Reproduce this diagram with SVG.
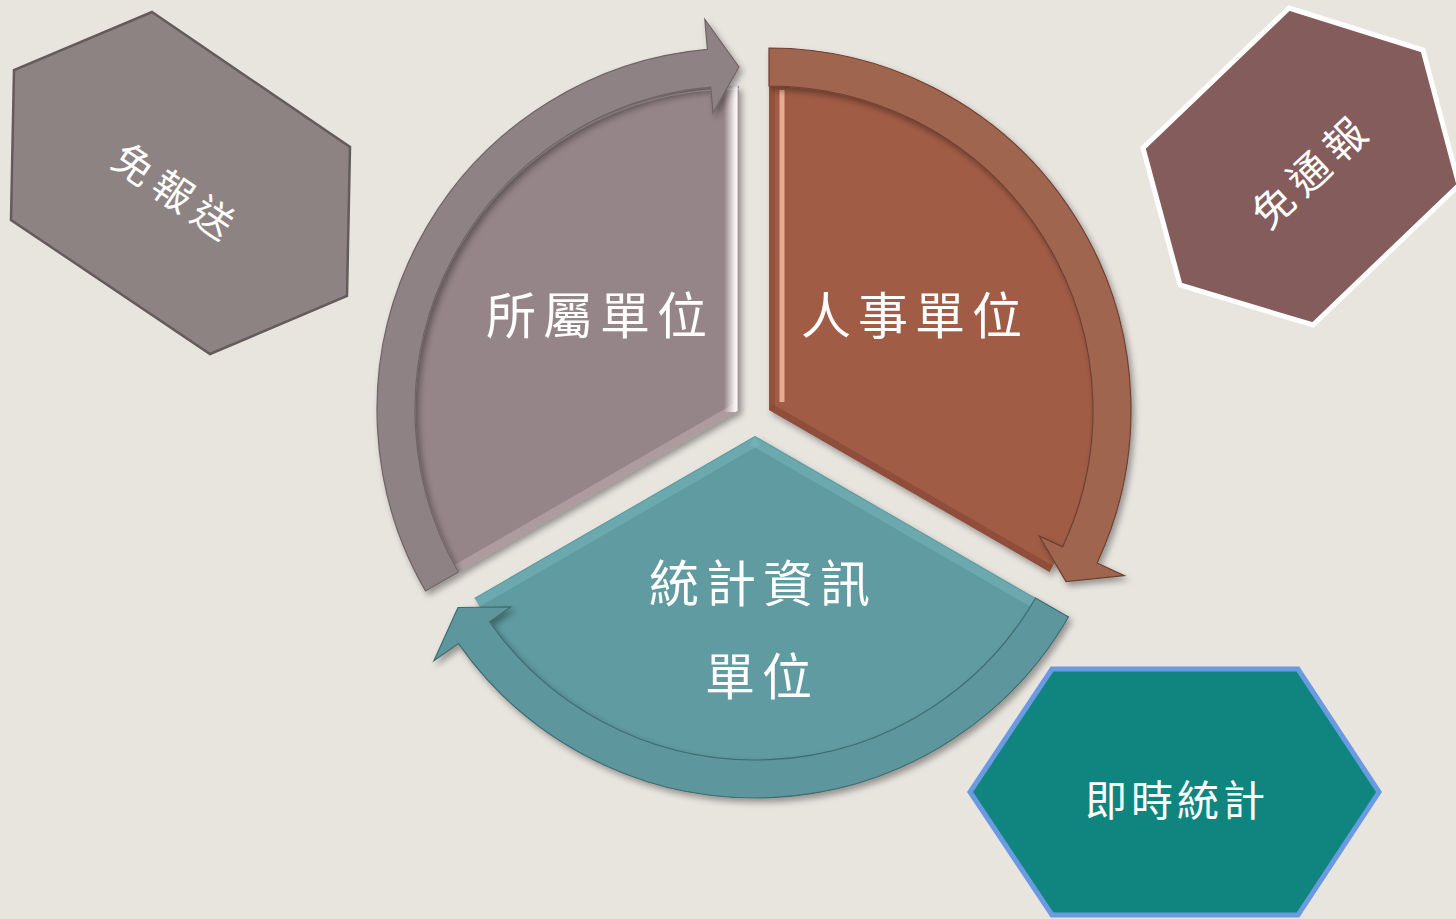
<svg xmlns="http://www.w3.org/2000/svg" width="1456" height="919" viewBox="0 0 1456 919">
  <style>
    .lbl { font-family: "Noto Sans CJK TC", "Noto Sans CJK SC", sans-serif; fill: #ffffff; text-anchor: middle; dominant-baseline: central; }
    .big { font-size: 50px; letter-spacing: 7px; }
    .band { stroke-width: 1.2; stroke-linejoin: miter; }
  </style>
  <defs>
    <filter id="shadow" x="-10%" y="-10%" width="125%" height="125%">
      <feDropShadow dx="3" dy="4" stdDeviation="3" flood-color="#000" flood-opacity="0.35"/>
    </filter>
    <linearGradient id="hlL" gradientUnits="userSpaceOnUse" x1="724" y1="0" x2="739" y2="0">
      <stop offset="0" stop-color="#ffffff" stop-opacity="0"/>
      <stop offset="0.7" stop-color="#fdf6f7" stop-opacity="0.9"/>
      <stop offset="0.85" stop-color="#ffffff" stop-opacity="0.95"/>
      <stop offset="1" stop-color="#8a7b7e" stop-opacity="0.9"/>
    </linearGradient>
    <clipPath id="clipL"><path d="M739,410 L458.4,572 A324,324 0 0 1 739,86 Z"/></clipPath>
    <clipPath id="clipR"><path d="M769,410 L769,86 A324,324 0 0 1 1049.6,572 Z"/></clipPath>
    <clipPath id="clipB"><path d="M755,436 L1035.6,598 A324,324 0 0 1 474.4,598 Z"/></clipPath>
  </defs>

  <rect x="0" y="0" width="1456" height="919" fill="#e8e4de"/>

  <!-- Hexagon nodes -->
  <g id="node-mianbaosong">
    <polygon points="152,12 350,147 347,296 210,354 11,220 14,70" fill="#8e8383" stroke="#655a5c" stroke-width="2.5"/>
    <text class="lbl" x="178" y="189" font-size="40" letter-spacing="8" transform="rotate(34 174 190)">免報送</text>
  </g>
  <g id="node-mintongbao">
    <polygon points="1289,8 1423,50 1459,185 1313,325 1180,285 1143,148" fill="#835c5b" stroke="#ffffff" stroke-width="5" stroke-linejoin="miter"/>
    <text class="lbl" x="1311" y="171" font-size="41" letter-spacing="8" transform="rotate(-43 1307 171)">免通報</text>
  </g>
  <g id="node-jishi">
    <polygon points="1052,669 1298,669 1379,792 1298,915 1052,915 970,792" fill="#10857f" stroke="#6a9be2" stroke-width="5"/>
    <text class="lbl" x="1177" y="797" font-size="42" letter-spacing="4">即時統計</text>
  </g>

  <!-- Cycle segment nodes -->
  <g id="node-suoshu">
    <path d="M739,410 L458.4,572 A324,324 0 0 1 739,86 Z" fill="#958488" filter="url(#shadow)"/>
    <g clip-path="url(#clipL)">
      <line x1="739" y1="410" x2="458.4" y2="572" stroke="#c2b0b3" stroke-width="16" opacity="0.55"/>
      <rect x="724" y="86" width="15" height="326" fill="url(#hlL)"/>
      <path d="M458.4,572 A321,321 0 0 1 739,89" fill="none" stroke="#ffffff" stroke-width="1.5" opacity="0.35"/>
    </g>
    <text class="lbl big" x="600" y="312">所屬單位</text>
  </g>
  <g id="node-renshi">
    <path d="M769,410 L769,86 A324,324 0 0 1 1049.6,572 Z" fill="#a15b44" filter="url(#shadow)"/>
    <g clip-path="url(#clipR)">
      <line x1="769" y1="410" x2="1049.6" y2="572" stroke="#7a3e2f" stroke-width="14" opacity="0.45"/>
      <line x1="771" y1="86" x2="771" y2="410" stroke="#8a4a38" stroke-width="8" opacity="0.6"/>
      <line x1="782" y1="90" x2="782" y2="402" stroke="#f2b9a2" stroke-width="5" opacity="0.85"/>
    </g>
    <text class="lbl big" x="915" y="312">人事單位</text>
  </g>
  <g id="node-tongji">
    <path d="M755,436 L1035.6,598 A324,324 0 0 1 474.4,598 Z" fill="#5e9ba1" filter="url(#shadow)"/>
    <g clip-path="url(#clipB)">
      <line x1="755" y1="436" x2="1035.6" y2="598" stroke="#86c4c9" stroke-width="20" opacity="0.35"/>
      <line x1="755" y1="436" x2="474.4" y2="598" stroke="#86c4c9" stroke-width="20" opacity="0.35"/>
      <line x1="755" y1="436" x2="1035.6" y2="598" stroke="#4f8c92" stroke-width="2" opacity="0.5"/>
      <line x1="755" y1="436" x2="474.4" y2="598" stroke="#4f8c92" stroke-width="2" opacity="0.5"/>
    </g>
    <text class="lbl big" x="763" y="580">統計資訊</text>
    <text class="lbl big" x="762" y="673">單位</text>
  </g>

  <!-- Circular arrow connectors -->
  <g id="connectors" filter="url(#shadow)">
    <path class="band" d="M425.5,591 A362,362 0 0 1 707.45,49.4 L704.8,19.5 L739,67 L713.0,113.1 L710.8,87.2 A324,324 0 0 0 458.4,572 Z" fill="#8e8285" stroke="#6f6366"/>
    <path class="band" d="M769,48 A362,362 0 0 1 1097.1,563.0 L1124.3,575.7 L1066.0,581.5 L1039.1,535.9 L1062.6,546.9 A324,324 0 0 0 769,86 Z" fill="#a0654f" stroke="#6e3f31"/>
    <path class="band" d="M1068.5,617 A362,362 0 0 1 458.5,643.6 L433.9,660.8 L458.0,607.5 L510.9,606.9 L489.6,621.8 A324,324 0 0 0 1035.6,598 Z" fill="#5d969c" stroke="#3f6c71"/>
  </g>
</svg>
